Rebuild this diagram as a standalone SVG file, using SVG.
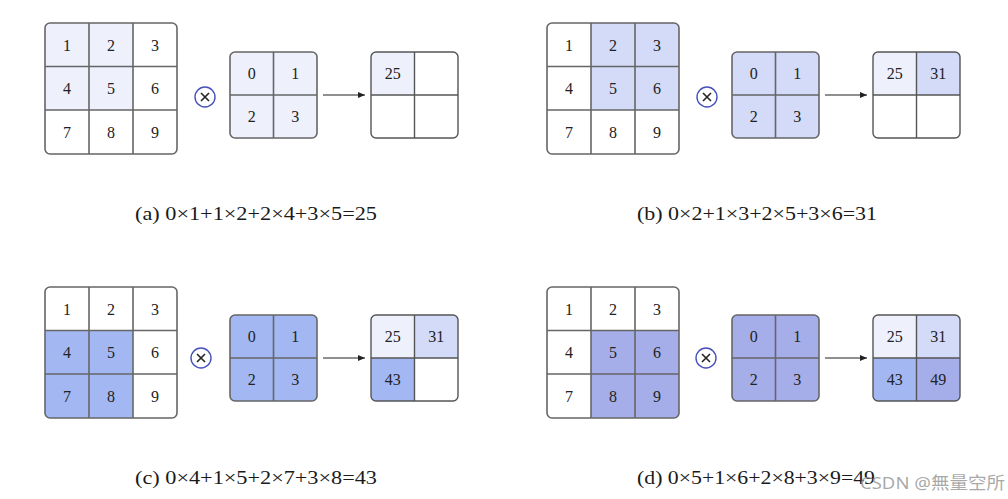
<svg xmlns="http://www.w3.org/2000/svg" width="1008" height="499" viewBox="0 0 1008 499">
<style>
.n{font-family:"Liberation Serif","DejaVu Serif",serif;font-size:16px;fill:#222;text-anchor:middle;dominant-baseline:central}
.cap{font-family:"Liberation Serif","DejaVu Serif",serif;font-size:19px;fill:#1a1a1a}
.g{stroke:#666;stroke-width:1.6;fill:none}
.o{stroke:#555;stroke-width:1.4;fill:none}
.ca{fill:#eef0fc}.cb{fill:#d3dbf8}.cc{fill:#a3b8f3}.cd{fill:#a5aee8}
.ox{fill:#fff;stroke:#4650bd;stroke-width:1.4}
.xx{stroke:#222;stroke-width:1.6}
.ar{stroke:#222;stroke-width:1.2;fill:none}
</style>
<defs>
<marker id="ah" markerWidth="8" markerHeight="8" refX="7" refY="4" orient="auto" markerUnits="userSpaceOnUse"><path d="M0,1 L7,4 L0,7 z" fill="#222"/></marker>
<clipPath id="c3"><rect x="0" y="0" width="132" height="131" rx="5"/></clipPath>
<clipPath id="c2"><rect x="0" y="0" width="87" height="86" rx="5"/></clipPath>
<g id="sym">
<circle class="ox" cx="0" cy="0" r="10"/>
<path class="xx" d="M-4,-4 L4,4 M4,-4 L-4,4"/>
</g>
</defs>
<rect width="1008" height="499" fill="#fff"/>

<!-- Panel (a) -->
<g id="panel-a">
<g id="a-input" transform="translate(45,23)">
<g clip-path="url(#c3)">
<rect class="ca" x="0" y="0" width="88" height="87"/>
</g>
<rect class="g" x="0" y="0" width="132" height="131" rx="5"/>
<path class="g" d="M44,0V131M88,0V131M0,43.5H132M0,87H132"/>
<text class="n" x="22" y="22">1</text><text class="n" x="66" y="22">2</text><text class="n" x="110" y="22">3</text>
<text class="n" x="22" y="65.5">4</text><text class="n" x="66" y="65.5">5</text><text class="n" x="110" y="65.5">6</text>
<text class="n" x="22" y="109">7</text><text class="n" x="66" y="109">8</text><text class="n" x="110" y="109">9</text>
</g>
<use id="a-op" href="#sym" x="205" y="97"/>
<g id="a-kernel" transform="translate(230,52)">
<rect class="ca" x="0" y="0" width="87" height="86" rx="5"/>
<rect class="g" x="0" y="0" width="87" height="86" rx="5"/>
<path class="g" d="M43.5,0V86M0,43H87"/>
<text class="n" x="21.75" y="21.5">0</text><text class="n" x="65.25" y="21.5">1</text>
<text class="n" x="21.75" y="64.5">2</text><text class="n" x="65.25" y="64.5">3</text>
</g>
<g id="a-output" transform="translate(371,52)">
<g clip-path="url(#c2)"><rect class="ca" x="0" y="0" width="43.5" height="43"/></g>
<rect class="o" x="0" y="0" width="87" height="86" rx="5"/>
<path class="o" d="M43.5,0V86M0,43H87"/>
<text class="n" x="21.75" y="21.5">25</text>
</g>
<text id="a-caption" class="cap" x="135" y="220" textLength="242" lengthAdjust="spacingAndGlyphs">(a) 0×1+1×2+2×4+3×5=25</text>
</g>

<!-- Panel (b) -->
<g id="panel-b">
<g id="b-input" transform="translate(547,23)">
<g clip-path="url(#c3)">
<rect class="cb" x="44" y="0" width="88" height="87"/>
</g>
<rect class="g" x="0" y="0" width="132" height="131" rx="5"/>
<path class="g" d="M44,0V131M88,0V131M0,43.5H132M0,87H132"/>
<text class="n" x="22" y="22">1</text><text class="n" x="66" y="22">2</text><text class="n" x="110" y="22">3</text>
<text class="n" x="22" y="65.5">4</text><text class="n" x="66" y="65.5">5</text><text class="n" x="110" y="65.5">6</text>
<text class="n" x="22" y="109">7</text><text class="n" x="66" y="109">8</text><text class="n" x="110" y="109">9</text>
</g>
<use id="b-op" href="#sym" x="707" y="97"/>
<g id="b-kernel" transform="translate(732,52)">
<rect class="cb" x="0" y="0" width="87" height="86" rx="5"/>
<rect class="g" x="0" y="0" width="87" height="86" rx="5"/>
<path class="g" d="M43.5,0V86M0,43H87"/>
<text class="n" x="21.75" y="21.5">0</text><text class="n" x="65.25" y="21.5">1</text>
<text class="n" x="21.75" y="64.5">2</text><text class="n" x="65.25" y="64.5">3</text>
</g>
<g id="b-output" transform="translate(873,52)">
<g clip-path="url(#c2)"><rect class="ca" x="0" y="0" width="43.5" height="43"/><rect class="cb" x="43.5" y="0" width="43.5" height="43"/></g>
<rect class="o" x="0" y="0" width="87" height="86" rx="5"/>
<path class="o" d="M43.5,0V86M0,43H87"/>
<text class="n" x="21.75" y="21.5">25</text><text class="n" x="65.25" y="21.5">31</text>
</g>
<text id="b-caption" class="cap" x="637" y="220" textLength="240" lengthAdjust="spacingAndGlyphs">(b) 0×2+1×3+2×5+3×6=31</text>
</g>

<!-- Panel (c) -->
<g id="panel-c">
<g id="c-input" transform="translate(45,287)">
<g clip-path="url(#c3)">
<rect class="cc" x="0" y="43.5" width="88" height="87.5"/>
</g>
<rect class="g" x="0" y="0" width="132" height="131" rx="5"/>
<path class="g" d="M44,0V131M88,0V131M0,43.5H132M0,87H132"/>
<text class="n" x="22" y="22">1</text><text class="n" x="66" y="22">2</text><text class="n" x="110" y="22">3</text>
<text class="n" x="22" y="65.5">4</text><text class="n" x="66" y="65.5">5</text><text class="n" x="110" y="65.5">6</text>
<text class="n" x="22" y="109">7</text><text class="n" x="66" y="109">8</text><text class="n" x="110" y="109">9</text>
</g>
<use id="c-op" href="#sym" x="201" y="358"/>
<g id="c-kernel" transform="translate(230,315)">
<rect class="cc" x="0" y="0" width="87" height="86" rx="5"/>
<rect class="g" x="0" y="0" width="87" height="86" rx="5"/>
<path class="g" d="M43.5,0V86M0,43H87"/>
<text class="n" x="21.75" y="21.5">0</text><text class="n" x="65.25" y="21.5">1</text>
<text class="n" x="21.75" y="64.5">2</text><text class="n" x="65.25" y="64.5">3</text>
</g>
<g id="c-output" transform="translate(371,315)">
<g clip-path="url(#c2)"><rect class="ca" x="0" y="0" width="43.5" height="43"/><rect class="cb" x="43.5" y="0" width="43.5" height="43"/><rect class="cc" x="0" y="43" width="43.5" height="43"/></g>
<rect class="o" x="0" y="0" width="87" height="86" rx="5"/>
<path class="o" d="M43.5,0V86M0,43H87"/>
<text class="n" x="21.75" y="21.5">25</text><text class="n" x="65.25" y="21.5">31</text>
<text class="n" x="21.75" y="64.5">43</text>
</g>
<text id="c-caption" class="cap" x="135" y="484" textLength="242" lengthAdjust="spacingAndGlyphs">(c) 0×4+1×5+2×7+3×8=43</text>
</g>

<!-- Panel (d) -->
<g id="panel-d">
<g id="d-input" transform="translate(547,287)">
<g clip-path="url(#c3)">
<rect class="cd" x="44" y="43.5" width="88" height="87.5"/>
</g>
<rect class="g" x="0" y="0" width="132" height="131" rx="5"/>
<path class="g" d="M44,0V131M88,0V131M0,43.5H132M0,87H132"/>
<text class="n" x="22" y="22">1</text><text class="n" x="66" y="22">2</text><text class="n" x="110" y="22">3</text>
<text class="n" x="22" y="65.5">4</text><text class="n" x="66" y="65.5">5</text><text class="n" x="110" y="65.5">6</text>
<text class="n" x="22" y="109">7</text><text class="n" x="66" y="109">8</text><text class="n" x="110" y="109">9</text>
</g>
<use id="d-op" href="#sym" x="706" y="358"/>
<g id="d-kernel" transform="translate(732,315)">
<rect class="cd" x="0" y="0" width="87" height="86" rx="5"/>
<rect class="g" x="0" y="0" width="87" height="86" rx="5"/>
<path class="g" d="M43.5,0V86M0,43H87"/>
<text class="n" x="21.75" y="21.5">0</text><text class="n" x="65.25" y="21.5">1</text>
<text class="n" x="21.75" y="64.5">2</text><text class="n" x="65.25" y="64.5">3</text>
</g>
<g id="d-output" transform="translate(873,315)">
<g clip-path="url(#c2)"><rect class="ca" x="0" y="0" width="43.5" height="43"/><rect class="cb" x="43.5" y="0" width="43.5" height="43"/><rect class="cc" x="0" y="43" width="43.5" height="43"/><rect class="cd" x="43.5" y="43" width="43.5" height="43"/></g>
<rect class="o" x="0" y="0" width="87" height="86" rx="5"/>
<path class="o" d="M43.5,0V86M0,43H87"/>
<text class="n" x="21.75" y="21.5">25</text><text class="n" x="65.25" y="21.5">31</text>
<text class="n" x="21.75" y="64.5">43</text><text class="n" x="65.25" y="64.5">49</text>
</g>
<text id="d-caption" class="cap" x="637" y="484" textLength="238" lengthAdjust="spacingAndGlyphs">(d) 0×5+1×6+2×8+3×9=49</text>
</g>

<g id="connectors">
<line class="ar" x1="323" y1="95" x2="365" y2="95" marker-end="url(#ah)"/>
<line class="ar" x1="825" y1="95" x2="867" y2="95" marker-end="url(#ah)"/>
<line class="ar" x1="323" y1="358" x2="365" y2="358" marker-end="url(#ah)"/>
<line class="ar" x1="825" y1="358" x2="867" y2="358" marker-end="url(#ah)"/>
</g>

<text id="watermark" x="860" y="489" font-family="'Noto Sans','Noto Sans CJK SC',sans-serif" font-size="17" fill="#999" fill-opacity="0.85" textLength="145" lengthAdjust="spacingAndGlyphs">CSDN @無量空所</text>
</svg>
